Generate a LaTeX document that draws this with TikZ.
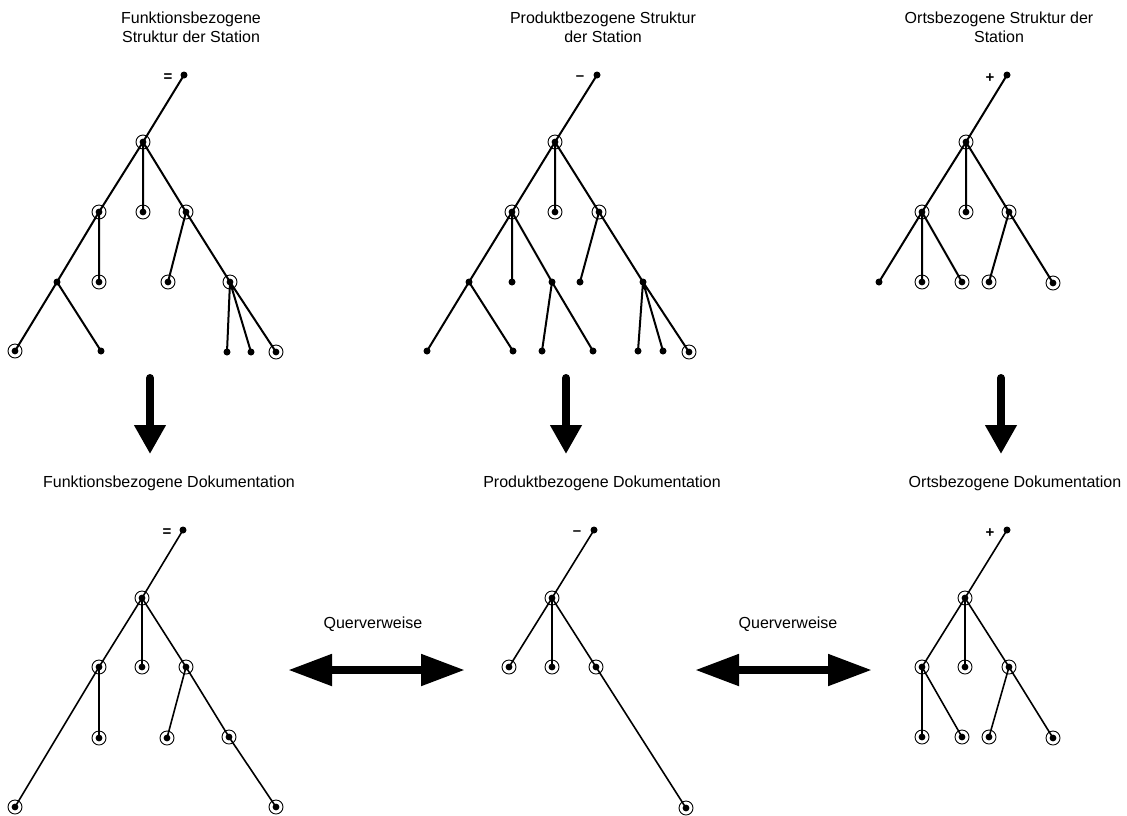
\documentclass[tikz,border=0pt]{standalone}
\usepackage{fontspec}
\setmainfont{Liberation Sans}
\usetikzlibrary{arrows.meta}
\begin{document}
\begin{tikzpicture}[x=1pt,y=-1pt,
  pt/.style={circle,fill=black,inner sep=0pt,minimum size=7pt},
  ring/.style={circle,draw=black,line width=0.9pt,inner sep=0pt,minimum size=14pt,
    path picture={\fill[black] (path picture bounding box.center) circle (3.4pt);}},
  edge/.style={line width=2pt},
  thinedge/.style={line width=1.6pt},
  ttl/.style={font=\fontsize{16}{19}\selectfont,align=center,inner sep=0pt},
  sign/.style={font=\fontsize{15}{15}\selectfont\bfseries,inner sep=0pt},
  downarrow/.style={line width=8pt,line cap=round,-{Triangle[width=30pt,length=29pt]}},
  duo/.style={line width=8pt,{Triangle[width=30pt,length=44pt]}-{Triangle[width=30pt,length=44pt]}}
]
\useasboundingbox (0,0) rectangle (1127,815);

% ---------- titles ----------
\node[ttl] (t1) at (191,27.5) {Funktionsbezogene\\Struktur der Station};
\node[ttl] (t2) at (603,27.5) {Produktbezogene Struktur\\der Station};
\node[ttl] (t3) at (999,27.5) {Ortsbezogene Struktur der\\Station};

\node[ttl] (d1) at (169,483) {Funktionsbezogene Dokumentation};
\node[ttl] (d2) at (602,483) {Produktbezogene Dokumentation};
\node[ttl] (d3) at (1015,483) {Ortsbezogene Dokumentation};

\node[ttl] (q1) at (373,624) {Querverweise};
\node[ttl] (q2) at (788,624) {Querverweise};

% ---------- top tree 1 ----------
\node[pt] (a0) at (184,75) {};
\node[sign] (as) at (168,78) {=};
\node[ring] (a1) at (143,142) {};
\node[ring] (a2) at (99,212) {};
\node[ring] (a3) at (143,212) {};
\node[ring] (a4) at (186,212) {};
\node[pt] (a5) at (57,282) {};
\node[ring] (a6) at (99,282) {};
\node[ring] (a7) at (168,282) {};
\node[ring] (a8) at (230,282) {};
\node[ring] (a9) at (15,351) {};
\node[pt] (a10) at (101,351) {};
\node[pt] (a11) at (227,352) {};
\node[pt] (a12) at (251,352) {};
\node[ring] (a13) at (276,352) {};
\draw[edge] (a0.center)--(a1.center)
  (a1.center)--(a2.center) (a1.center)--(a3.center) (a1.center)--(a4.center)
  (a2.center)--(a5.center) (a2.center)--(a6.center)
  (a4.center)--(a7.center) (a4.center)--(a8.center)
  (a5.center)--(a9.center) (a5.center)--(a10.center)
  (a8.center)--(a11.center) (a8.center)--(a12.center) (a8.center)--(a13.center);

% ---------- top tree 2 ----------
\node[pt] (b0) at (597,75) {};
\node[sign] (bs) at (580,78) {–};
\node[ring] (b1) at (555,142) {};
\node[ring] (b2) at (512,212) {};
\node[ring] (b3) at (555,212) {};
\node[ring] (b4) at (599,212) {};
\node[pt] (b5) at (469,282) {};
\node[pt] (b6) at (512,282) {};
\node[pt] (b7) at (552,282) {};
\node[pt] (b8) at (580,282) {};
\node[pt] (b9) at (643,282) {};
\node[pt] (b10) at (427,351) {};
\node[pt] (b11) at (513,351) {};
\node[pt] (b12) at (542,351) {};
\node[pt] (b13) at (593,351) {};
\node[pt] (b14) at (638,351) {};
\node[pt] (b15) at (663,351) {};
\node[ring] (b16) at (689,352) {};
\draw[edge] (b0.center)--(b1.center)
  (b1.center)--(b2.center) (b1.center)--(b3.center) (b1.center)--(b4.center)
  (b2.center)--(b5.center) (b2.center)--(b6.center) (b2.center)--(b7.center)
  (b4.center)--(b8.center) (b4.center)--(b9.center)
  (b5.center)--(b10.center) (b5.center)--(b11.center)
  (b7.center)--(b12.center) (b7.center)--(b13.center)
  (b9.center)--(b14.center) (b9.center)--(b15.center) (b9.center)--(b16.center);

% ---------- top tree 3 ----------
\node[pt] (c0) at (1007,75) {};
\node[sign] (cs) at (990,78) {+};
\node[ring] (c1) at (966,142) {};
\node[ring] (c2) at (922,212) {};
\node[ring] (c3) at (966,212) {};
\node[ring] (c4) at (1009,212) {};
\node[pt] (c5) at (879,282) {};
\node[ring] (c6) at (922,282) {};
\node[ring] (c7) at (962,282) {};
\node[ring] (c8) at (989,282) {};
\node[ring] (c9) at (1053,283) {};
\draw[edge] (c0.center)--(c1.center)
  (c1.center)--(c2.center) (c1.center)--(c3.center) (c1.center)--(c4.center)
  (c2.center)--(c5.center) (c2.center)--(c6.center) (c2.center)--(c7.center)
  (c4.center)--(c8.center) (c4.center)--(c9.center);

% ---------- down arrows ----------
\coordinate (s1) at (150,378); \coordinate (e1) at (150,454);
\coordinate (s2) at (566,378); \coordinate (e2) at (566,454);
\coordinate (s3) at (1001,378); \coordinate (e3) at (1001,454);
\draw[downarrow] (s1)--(e1);
\draw[downarrow] (s2)--(e2);
\draw[downarrow] (s3)--(e3);

% ---------- double arrows ----------
\coordinate (h1a) at (288,670); \coordinate (h1b) at (465,670);
\coordinate (h2a) at (695,670); \coordinate (h2b) at (872,670);
\draw[duo] (h1a)--(h1b);
\draw[duo] (h2a)--(h2b);

% ---------- bottom tree 1 ----------
\node[pt] (p0) at (183,530) {};
\node[sign] (ps) at (167,533) {=};
\node[ring] (p1) at (142,598) {};
\node[ring] (p2) at (99,667) {};
\node[ring] (p3) at (142,667) {};
\node[ring] (p4) at (186,667) {};
\node[ring] (p5) at (99,738) {};
\node[ring] (p6) at (167,738) {};
\node[ring] (p7) at (229,737) {};
\node[ring] (p8) at (15,807) {};
\node[ring] (p9) at (276,807) {};
\draw[thinedge] (p0.center)--(p1.center)
  (p1.center)--(p2.center) (p1.center)--(p3.center) (p1.center)--(p4.center)
  (p2.center)--(p5.center) (p2.center)--(p8.center)
  (p4.center)--(p6.center) (p4.center)--(p7.center)
  (p7.center)--(p9.center);

% ---------- bottom tree 2 ----------
\node[pt] (q0) at (594,530) {};
\node[sign] (qs) at (577,533) {–};
\node[ring] (qq1) at (552,598) {};
\node[ring] (qq2) at (509,667) {};
\node[ring] (qq3) at (552,667) {};
\node[ring] (qq4) at (596,667) {};
\node[ring] (qq5) at (686,808) {};
\draw[thinedge] (q0.center)--(qq1.center)
  (qq1.center)--(qq2.center) (qq1.center)--(qq3.center) (qq1.center)--(qq4.center)
  (qq4.center)--(qq5.center);

% ---------- bottom tree 3 ----------
\node[pt] (r0) at (1007,530) {};
\node[sign] (rs) at (990,533) {+};
\node[ring] (r1) at (965,598) {};
\node[ring] (r2) at (922,667) {};
\node[ring] (r3) at (965,667) {};
\node[ring] (r4) at (1009,667) {};
\node[ring] (r5) at (922,737) {};
\node[ring] (r6) at (962,737) {};
\node[ring] (r7) at (989,737) {};
\node[ring] (r8) at (1053,738) {};
\draw[thinedge] (r0.center)--(r1.center)
  (r1.center)--(r2.center) (r1.center)--(r3.center) (r1.center)--(r4.center)
  (r2.center)--(r5.center) (r2.center)--(r6.center)
  (r4.center)--(r7.center) (r4.center)--(r8.center);
\end{tikzpicture}
\end{document}
